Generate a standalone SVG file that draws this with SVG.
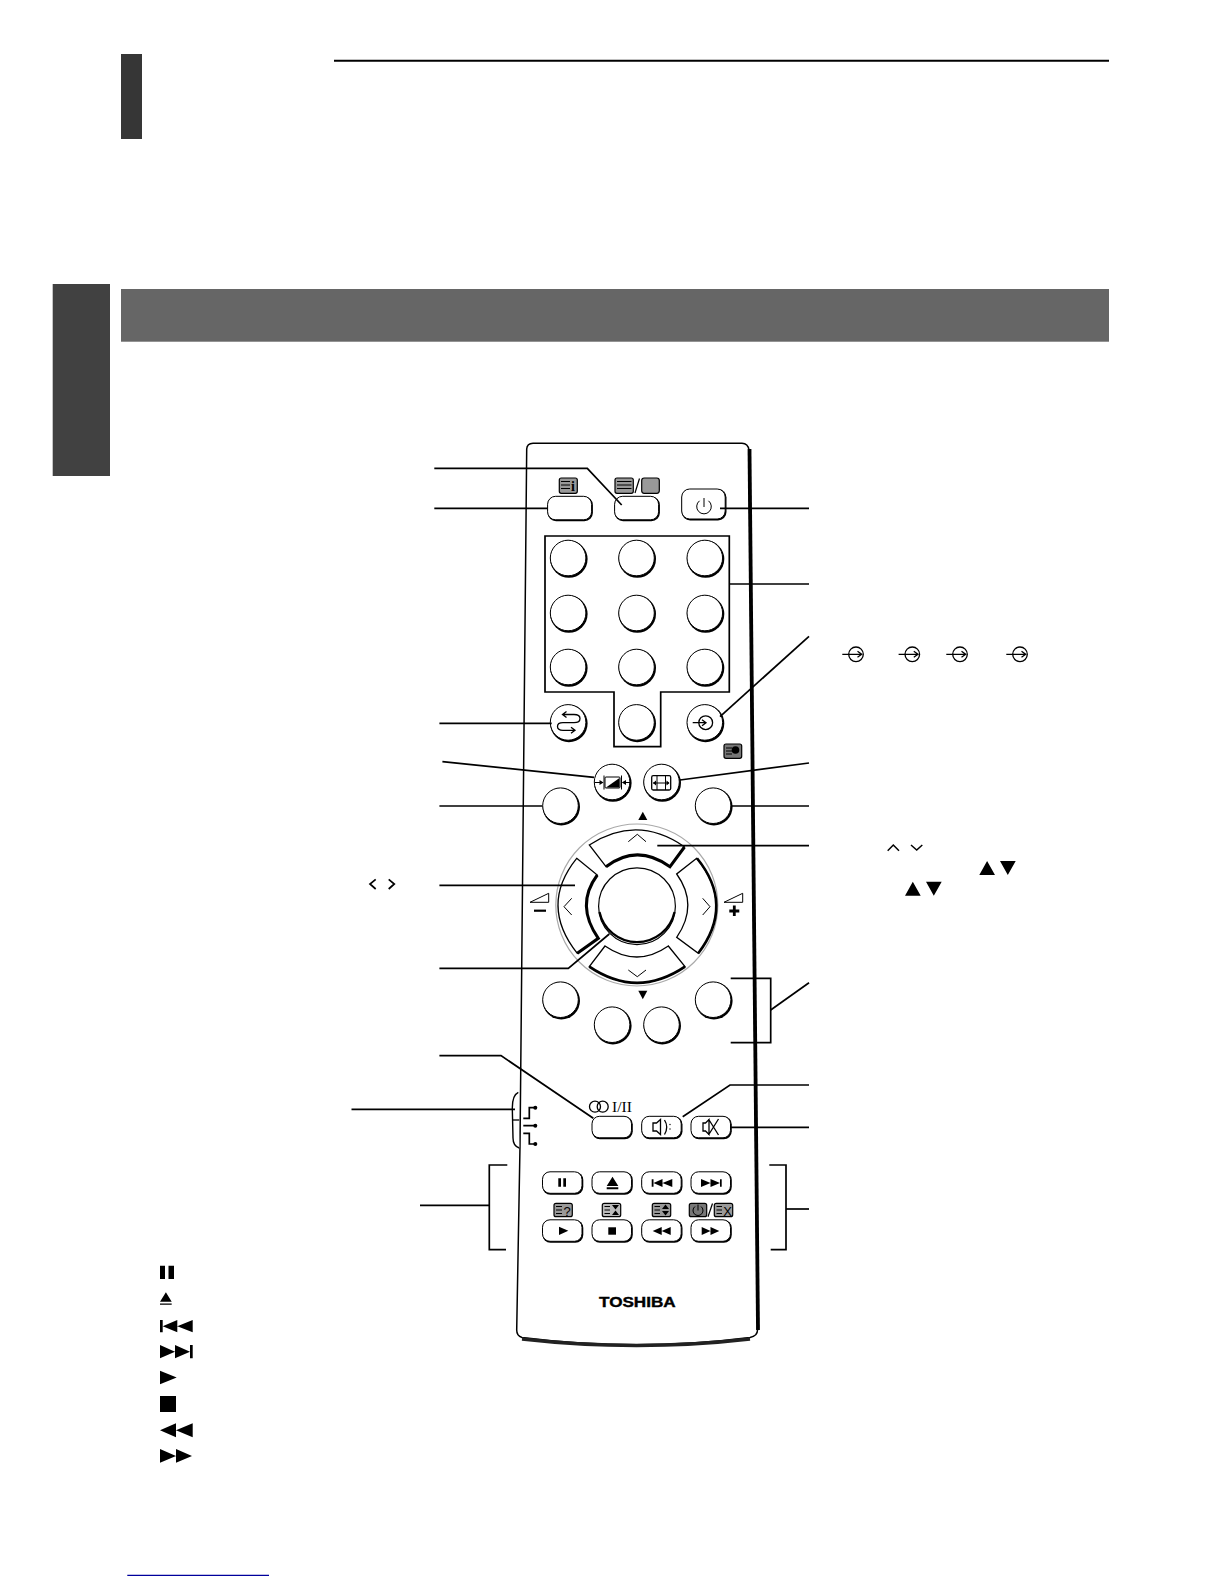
<svg xmlns="http://www.w3.org/2000/svg" width="1224" height="1584" viewBox="0 0 1224 1584">
<style>
.l{fill:none;stroke:#000;stroke-width:1.7}
.t{fill:none;stroke:#000;stroke-width:1}
.m{fill:none;stroke:#000;stroke-width:1.3}
.w{fill:#fff;stroke:#000;stroke-width:1.3}
.i{fill:#000}
.g{fill:#999;stroke:#000;stroke-width:1.2}
.gd{fill:#777;stroke:#000;stroke-width:1.2}
.lg{fill:#bbb;stroke:#000;stroke-width:1.2}
.ic{font-family:"Liberation Sans",sans-serif;fill:#000}
</style>
<defs>
<g id="rnd"><circle cx="0.6" cy="0.8" r="18.7" fill="#000"/><circle cx="-0.2" cy="-0.3" r="17.8" fill="#fff" stroke="#000" stroke-width="1"/></g>
<g id="pill"><rect x="-20" y="-11" width="40.800" height="22.800" rx="8" fill="#000"/><rect x="-20" y="-11.200" width="39.500" height="21.500" rx="7.500" fill="#fff" stroke="#000" stroke-width="1"/></g>
<g id="pill-wide"><rect x="-22.400" y="-12" width="45.300" height="24.800" rx="8.500" fill="#000"/><rect x="-22.400" y="-12.200" width="44" height="23.500" rx="8" fill="#fff" stroke="#000" stroke-width="1"/></g>
<g id="input"><circle r="7.300" class="m"/><path class="m" d="M-13.700 0H5.700M1.500-3L5.700 0L1.500 3"/></g>
<path id="bars" d="M0-4H9M0-.5H9M0 3H9" class="t"/>
</defs>

<rect id="chapter-tab" x="121" y="54" width="21" height="85" fill="#363636"/>
<line id="top-rule" x1="334" y1="60.700" x2="1109" y2="60.700" stroke="#000" stroke-width="2"/>
<rect id="side-tab" x="52.700" y="284" width="57.300" height="192" fill="#414141"/>
<rect id="banner" x="121" y="289" width="988" height="52.700" fill="#666"/>
<line id="foot-rule" x1="127.300" y1="1575.300" x2="269" y2="1575.300" stroke="#00009c" stroke-width="1.200"/>

<g id="legend-icons">
<path class="i" d="M160 1265.700H165V1279H160ZM168.500 1265.700H174V1279H168.500Z"/>
<path class="i" d="M160 1301.700L165.900 1292.300L171.700 1301.700ZM160 1303.500H171.700V1304.700H160Z"/>
<path class="i" d="M160 1320H162.700V1332.300H160ZM162.700 1326.200L177.300 1320V1332.300ZM177.300 1326.200L192.700 1320V1332.300Z"/>
<path class="i" d="M160 1345V1358.300L175 1351.700ZM175 1345V1358.300L190 1351.700ZM190 1345H192.700V1358.300H190Z"/>
<path class="i" d="M160 1370.700V1384.300L176.700 1377.500Z"/>
<rect class="i" x="160" y="1396" width="16" height="16"/>
<path class="i" d="M160 1430.300L176 1423.300V1437.300ZM176 1430.300L192.700 1423.300V1437.300Z"/>
<path class="i" d="M160 1449V1462.700L176 1455.900ZM176 1449V1462.700L192 1455.900Z"/>
</g>

<g id="text-symbols">
<path d="M375.700 879.300L370 884L375.700 889M388.700 879.300L394.300 884L388.700 889" fill="none" stroke="#000" stroke-width="1.700"/>
<use href="#input" x="856" y="654.300"/><use href="#input" x="912.300" y="654.300"/><use href="#input" x="960" y="654.300"/><use href="#input" x="1020" y="654.300"/>
<path d="M887.700 850.700L893.300 845L899 850.700M911 845L916.700 850L922.300 845" fill="none" stroke="#000" stroke-width="1.500"/>
<path class="i" d="M979.300 875L987.100 861L995 875ZM1000 861H1015.700L1007.800 875ZM905 895.700L912.800 881.700L920.700 895.700ZM926 881.700H941.700L933.800 895.700Z"/>
</g>

<g id="remote-body">
<path d="M520 1146L526.700 449Q527 443.500 533 443.300H742Q748 443.500 749 450L757.500 1330Q757.500 1336 750 1337.500Q637 1352 522 1337.500Q516.700 1336 516.700 1330Z" fill="#fff" stroke="#000" stroke-width="1.500"/>
<path d="M749.500 449L758 1330" fill="none" stroke="#000" stroke-width="3.800"/>
<path d="M750 1339Q637 1352 522 1339" fill="none" stroke="#222" stroke-width="3.400"/>
<path d="M518.300 1092.300Q512.300 1095 512.300 1108L513 1138Q513 1146 519.300 1148" fill="#fff" stroke="#000" stroke-width="1.400"/>
<path class="m" d="M512.300 1120H519.300"/>
</g>

<g id="btn-info"><use href="#pill-wide" x="570" y="508.500"/><rect class="g" x="559.300" y="478" width="18" height="15.300" rx="2"/><use href="#bars" x="561" y="485.500"/><rect x="570" y="479" width="6" height="13" fill="#999"/><text x="573" y="491" font-family="Liberation Serif,serif" font-size="14" font-weight="bold" text-anchor="middle">i</text></g>
<g id="btn-text"><use href="#pill-wide" x="637" y="508.500"/><rect class="g" x="615" y="478" width="18.300" height="15.300" rx="2"/><path d="M617 481.500H631.500M617 485H631.500M617 488.500H631.500" class="t"/><path d="M635 493L639.500 478.500" stroke="#000" stroke-width="1.200"/><rect class="g" x="641.700" y="478" width="17.600" height="15.300" rx="2.500"/></g>
<g id="btn-power"><rect x="681.700" y="489" width="44.800" height="31.500" rx="8.500" fill="#000"/><rect x="681.700" y="489" width="43.500" height="30" rx="8" fill="#fff" stroke="#000" stroke-width="1"/><path d="M699.500 500.800A7.300 7.300 0 1 0 708.500 500.800M704 498V507" class="t"/></g>

<g id="digit-buttons">
<use href="#rnd" x="568.300" y="558.300"/><use href="#rnd" x="636.700" y="558.300"/><use href="#rnd" x="705" y="558.300"/>
<use href="#rnd" x="568.300" y="613.300"/><use href="#rnd" x="636.700" y="613.300"/><use href="#rnd" x="705" y="613.300"/>
<use href="#rnd" x="568.300" y="667.300"/><use href="#rnd" x="636.700" y="667.300"/><use href="#rnd" x="705" y="667.300"/>
<use href="#rnd" x="636.700" y="722.700"/>
</g>
<g id="btn-recall"><use href="#rnd" x="568.300" y="722.700"/><path d="M562.500 714.500H574Q580 714.500 580 718.500Q580 722.700 574 722.700H563Q557.500 722.700 557.500 726.500Q557.500 730.300 563 730.300H575M566.500 711.500L562.500 714.500L566.500 717.500M571 727.300L575 730.300L571 733.300" fill="none" stroke="#000" stroke-width="1.300"/></g>
<g id="btn-input"><use href="#rnd" x="705" y="722.700"/><circle cx="705.700" cy="722.700" r="6.900" class="m"/><path class="m" d="M692.700 722.700H706M702 719.700L706 722.700L702 725.700"/></g>
<g id="mini-icon"><rect class="gd" x="724" y="744" width="17.700" height="14.300" rx="2"/><path class="t" d="M726 748H732M726 751H732M726 754H732"/><circle cx="735.500" cy="750" r="3.800" class="i"/></g>

<g id="btn-still"><use href="#rnd" x="612.300" y="782.300"/><rect x="605" y="777" width="15" height="11" rx="1" fill="#fff" stroke="#000" stroke-width="1"/><path class="i" d="M606 787.500L619.500 778V787.500Z"/><path d="M595 782.500H602.500M604 775.500V789.500M621.500 775.500V789.500M623 782.500H630" class="t"/><path class="i" d="M603.500 782.500L599.500 780V785ZM621.800 782.500L626 780V785Z"/></g>
<g id="btn-wide"><use href="#rnd" x="661.700" y="782.300"/><rect x="651.700" y="775.700" width="19" height="14.300" rx="1.500" class="m"/><path class="t" d="M657 775.700V790M665.500 775.700V790M653 783H669"/><path class="i" d="M653 783L656 780.500V785.500ZM669.500 783L666.500 780.500V785.500Z"/></g>
<use id="btn-left-top" href="#rnd" x="560.700" y="806"/>
<use id="btn-right-top" href="#rnd" x="713.300" y="806"/>

<g id="navigator">
<path class="i" d="M642.800 811.700L647.300 820H638.300Z"/>
<circle cx="636.800" cy="905" r="81" fill="#fff" stroke="#aaa" stroke-width="1.200"/>
<path class="w" d="M589.300 845Q637 814 684.300 846.700L670 866.700Q637 843 606 866.700Z"/>
<path d="M606 866.700Q637 843 670 866.700L684.500 847" fill="none" stroke="#000" stroke-width="3"/>
<path class="t" d="M628.300 841.700L637.300 834.300L646 841.700"/>
<path class="w" d="M576.700 858.300L597.300 875Q575 905 598.300 938.300L577.300 953.300Q539 905 576.700 858.300Z"/>
<path d="M597.300 875Q575 905 598.300 938.300L577.300 953.300" fill="none" stroke="#000" stroke-width="3"/>
<path class="t" d="M571.700 898.300L564 906.700L571.700 915"/>
<path class="w" d="M696.700 858.300L676.700 874Q699 905 676.700 937.300L698.300 953.300Q735 905 696.700 858.300Z"/>
<path d="M697 858.300Q735 905 698.300 953.300" fill="none" stroke="#000" stroke-width="2.600"/>
<path class="t" d="M702.700 898.300L710 906.700L702.700 915"/>
<path class="w" d="M605 946Q637 968 668.300 946L685 966.700Q637 999 589.300 966.700Z"/>
<path d="M685 966.700Q637 999 589.300 966.700" fill="none" stroke="#000" stroke-width="2.800"/>
<path class="t" d="M628.300 970L637.300 976.700L646 970"/>
<path class="i" d="M638.300 990.700H647.300L642.800 999.300Z"/>
<circle cx="637" cy="906.200" r="38.400" fill="#fff" stroke="#000" stroke-width="1.200"/>
<path d="M599.500 912A38.400 38.400 0 0 0 674.500 912" fill="none" stroke="#000" stroke-width="2.200"/>
<path d="M530 902.300L548.700 893.300V902.300Z" fill="none" stroke="#000" stroke-width="1"/>
<path d="M534 910.700H546" stroke="#000" stroke-width="2.200"/>
<path d="M724 902.300L742.700 893.300V902.300Z" fill="none" stroke="#000" stroke-width="1"/>
<path d="M729.300 911H739.300M734.300 905.500V916" stroke="#000" stroke-width="2.800"/>
</g>

<use id="btn-color-a" href="#rnd" x="560.700" y="1000"/>
<use id="btn-color-b" href="#rnd" x="612.300" y="1025"/>
<use id="btn-color-c" href="#rnd" x="661.700" y="1025"/>
<use id="btn-color-d" href="#rnd" x="713.300" y="1000"/>

<g id="btn-sound">
<circle class="m" cx="595" cy="1106.700" r="5.500"/><circle class="m" cx="602.700" cy="1106.700" r="5.500"/>
<text x="612" y="1111.800" font-family="Liberation Serif,serif" font-size="15.500">I/II</text>
<use href="#pill" x="612" y="1127.500"/>
</g>
<g id="btn-volume"><use href="#pill" x="661.700" y="1127.500"/><path class="m" d="M653 1123H656.500L660.500 1119.500V1134.500L656.500 1131H653ZM664.500 1120Q669 1127 664.500 1134.500"/><circle cx="670" cy="1124.500" r=".7" class="i"/><circle cx="670" cy="1129" r=".7" class="i"/></g>
<g id="btn-mute"><use href="#pill" x="711" y="1127.500"/><path class="m" d="M705.500 1123H703V1131H705.500L709 1134.500V1119.500L705.500 1123ZM708.500 1119L718.500 1135M718.500 1119L708.500 1135"/></g>
<g id="tv-switch">
<path class="l" d="M523.300 1118.300H529.300V1107.700H535M523.300 1125.700H535M523.300 1133.300H529.300V1144H535"/>
<circle cx="535.300" cy="1107.700" r="2" class="i"/><circle cx="535.300" cy="1125.700" r="2" class="i"/><circle cx="535.300" cy="1144" r="2" class="i"/>
</g>

<g id="vcr-row-1">
<use href="#pill" x="562.500" y="1183"/><use href="#pill" x="612" y="1183"/><use href="#pill" x="661.700" y="1183"/><use href="#pill" x="711" y="1183"/>
<path class="i" d="M558.300 1178.300H561V1186.700H558.300ZM563.300 1178.300H566V1186.700H563.300Z"/>
<path class="i" d="M606.700 1186L612.500 1176.700L618.300 1186ZM606.700 1187.300H618.300V1189.300H606.700Z"/>
<path class="i" d="M651.700 1179.300H653.500V1186.700H651.700ZM653.500 1183L662.500 1179V1187ZM662.500 1183L672.300 1179V1187Z"/>
<path class="i" d="M701 1179V1187L710.500 1183ZM710.500 1179V1187L720 1183ZM720 1179.300H721.700V1186.700H720Z"/>
</g>
<g id="vcr-labels">
<rect class="g" x="554" y="1203.300" width="18.300" height="13.400" rx="2"/><path class="t" d="M556 1206.500H562M556 1210H562M556 1213.500H562"/><text class="ic" x="567" y="1215.500" font-size="13" text-anchor="middle">?</text>
<rect class="lg" x="602.300" y="1203.300" width="18.400" height="13.400" rx="2"/><path class="t" d="M604.500 1206.500H610M604.500 1210H610M604.500 1213.500H610"/><path class="i" d="M612 1205H619L615.500 1209.500ZM612 1215H619L615.500 1210.500Z"/>
<rect class="g" x="652.300" y="1203.300" width="18.400" height="13.400" rx="2"/><path class="t" d="M654.500 1206.500H660M654.500 1210H660M654.500 1213.500H660"/><path class="i" d="M665.500 1204.500L669 1209H662ZM665.500 1215.500L669 1211H662Z"/>
<rect class="gd" x="689.300" y="1203.300" width="17.400" height="13.400" rx="2"/><path class="t" d="M695 1206.500A5 5 0 1 0 701 1206.500M698 1204.500V1210.500"/>
<path d="M708 1216.700L712.500 1203.500" stroke="#000" stroke-width="1.200"/>
<rect class="g" x="714.300" y="1203.300" width="18.400" height="13.400" rx="2"/><path class="t" d="M716.500 1206.500H722M716.500 1210H722M716.500 1213.500H722"/><text class="ic" x="727.500" y="1215.500" font-size="13" text-anchor="middle">X</text>
</g>
<g id="vcr-row-2">
<use href="#pill" x="562.500" y="1231"/><use href="#pill" x="612" y="1231"/><use href="#pill" x="661.700" y="1231"/><use href="#pill" x="711" y="1231"/>
<path class="i" d="M559 1226.700V1235L568.300 1230.800Z"/>
<rect class="i" x="608.300" y="1227.300" width="7.700" height="7.400"/>
<path class="i" d="M652.700 1231L661.700 1227V1235ZM661.700 1231L670.700 1227V1235Z"/>
<path class="i" d="M701.700 1227V1235L710.500 1231ZM710.500 1227V1235L719.300 1231Z"/>
</g>
<text id="logo" x="599" y="1306.800" font-family="Liberation Sans,sans-serif" font-size="15" font-weight="bold" textLength="76.700" lengthAdjust="spacingAndGlyphs" stroke="#000" stroke-width=".4">TOSHIBA</text>

<g id="connectors">
<path class="l" d="M434.300 468.300H587.300L621.700 505"/>
<path class="l" d="M434.300 508.300H547.700"/>
<path class="l" d="M720 508.300H809"/>
<path class="l" d="M545 536H729.300V692H660.700V746.700H614V692H545Z"/>
<path class="l" d="M729.300 584H809"/>
<path class="l" d="M809 636.300L720 716.700"/>
<path class="l" d="M439.400 723.300H551.700"/>
<path class="l" d="M442.400 761.600L594 777.300"/>
<path class="l" d="M809 763L680 780"/>
<path class="l" d="M439.400 806H542.300"/>
<path class="l" d="M730.700 806H809"/>
<path class="l" d="M657.300 845.700H809"/>
<path class="l" d="M439.400 885.300H575"/>
<path class="l" d="M439.400 968.300H568.300L609.300 934"/>
<path class="l" d="M730.700 978.300H770.700V1042.700H730.700"/>
<path class="l" d="M770.700 1010L809 982.800"/>
<path class="l" d="M439.400 1055.600H501L593.300 1118.300"/>
<path class="l" d="M809 1085H730L682.700 1116.700"/>
<path class="l" d="M730.700 1127.300H809"/>
<path class="l" d="M351.500 1109.300H515"/>
<path class="l" d="M420 1205.300H489.300"/>
<path class="l" d="M507.300 1165H489.300V1249.700H506"/>
<path class="l" d="M769.300 1165H786V1249.700H770.700"/>
<path class="l" d="M786 1209H809"/>
</g>
</svg>
